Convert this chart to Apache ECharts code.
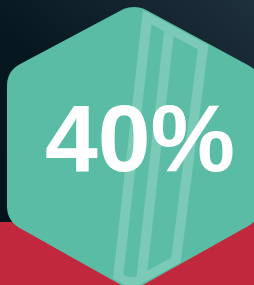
<!DOCTYPE html>
<html>
<head>
<meta charset="utf-8">
<script src="https://cdn.jsdelivr.net/npm/echarts@6/dist/echarts.min.js"></script>
<style>
html, body { margin: 0; padding: 0; background: #061820; }
#main { width: 254px; height: 285px; }
</style>
</head>
<body>
<div id="main"></div>
<script>
// the one value shown
var percentValues = [40];
var percentSuffix = ['%'];

// hexagon corners (top, upper-right, lower-right, bottom, lower-left, upper-left)
var hexX = [134, 261, 261, 132, 7, 7];
var hexY = [3.5, 72, 219, 291, 221, 71];

function pts(xs, ys) {
    return xs.map(function (x, i) { return [x, ys[i]]; });
}

// move every edge of a convex (clockwise on screen) polygon inwards by d
function inset(poly, d) {
    var n = poly.length, lines = [];
    for (var i = 0; i < n; i++) {
        var a = poly[i], b = poly[(i + 1) % n];
        var dx = b[0] - a[0], dy = b[1] - a[1], len = Math.sqrt(dx * dx + dy * dy);
        var nx = -dy / len, ny = dx / len;
        lines.push([[a[0] + nx * d, a[1] + ny * d], [dx, dy]]);
    }
    var out = [];
    for (var j = 0; j < n; j++) {
        var l1 = lines[(j + n - 1) % n], l2 = lines[j];
        var p = l1[0], r = l1[1], q = l2[0], s = l2[1];
        var den = r[0] * s[1] - r[1] * s[0];
        var t = ((q[0] - p[0]) * s[1] - (q[1] - p[1]) * s[0]) / den;
        out.push([p[0] + r[0] * t, p[1] + r[1] * t]);
    }
    return out;
}

// round the corners with a quadratic curve
function rounded(poly, cut) {
    var n = poly.length, out = [];
    for (var i = 0; i < n; i++) {
        var v = poly[i], p = poly[(i + n - 1) % n], q = poly[(i + 1) % n];
        var lp = Math.hypot(p[0] - v[0], p[1] - v[1]), lq = Math.hypot(q[0] - v[0], q[1] - v[1]);
        var a = [v[0] + (p[0] - v[0]) / lp * cut, v[1] + (p[1] - v[1]) / lp * cut];
        var b = [v[0] + (q[0] - v[0]) / lq * cut, v[1] + (q[1] - v[1]) / lq * cut];
        for (var k = 0; k <= 10; k++) {
            var s = k / 10;
            out.push([
                (1 - s) * (1 - s) * a[0] + 2 * (1 - s) * s * v[0] + s * s * b[0],
                (1 - s) * (1 - s) * a[1] + 2 * (1 - s) * s * v[1] + s * s * b[1]
            ]);
        }
    }
    return out;
}

// Sutherland-Hodgman, clip polygon convex and clockwise on screen
function clip(subject, clipPoly) {
    var out = subject;
    for (var i = 0; i < clipPoly.length; i++) {
        var a = clipPoly[i], b = clipPoly[(i + 1) % clipPoly.length];
        var nx = -(b[1] - a[1]), ny = b[0] - a[0];
        var side = function (p) { return (p[0] - a[0]) * nx + (p[1] - a[1]) * ny; };
        var input = out; out = [];
        for (var j = 0; j < input.length; j++) {
            var c = input[j], d = input[(j + 1) % input.length];
            var sc = side(c), sd = side(d);
            if (sc >= 0) out.push(c);
            if ((sc >= 0) !== (sd >= 0)) {
                var t = sc / (sc - sd);
                out.push([c[0] + (d[0] - c[0]) * t, c[1] + (d[1] - c[1]) * t]);
            }
        }
        if (!out.length) break;
    }
    return out;
}

// slanted band between two lines x = x0 - k*y
function band(l, r) {
    var y0 = -20, y1 = 310;
    return [[l[0] - l[1] * y0, y0], [r[0] - r[1] * y0, y0], [r[0] - r[1] * y1, y1], [l[0] - l[1] * y1, y1]];
}

var hex = pts(hexX, hexY);
var hexShape = rounded(hex, 15);
var outerClip = rounded(inset(hex, 1.5), 14);
var holeClip = rounded(inset(hex, 10), 10);

var glass = clip(band([144.1, 0.112], [214.2, 0.128]), outerClip);
var holeLeft = clip(band([154.1, 0.112], [167.6, 0.112]), holeClip);
var holeRight = clip(band([177.6, 0.112], [204.2, 0.128]), holeClip);

var myChart = echarts.init(document.getElementById('main'));
myChart.setOption({
    backgroundColor: {
        type: 'linear', x: 0, y: 1, x2: 1, y2: 0,
        colorStops: [
            { offset: 0, color: '#02121a' },
            { offset: 0.5, color: '#06171f' },
            { offset: 1, color: '#1f303d' }
        ]
    },
    graphic: [
        { type: 'rect', shape: { x: 0, y: 222, width: 254, height: 63 }, style: { fill: '#c1283e' } },
        { type: 'polygon', shape: { points: hexShape }, style: { fill: '#5abca4' } },
        { type: 'polygon', shape: { points: glass }, style: { fill: '#7bcab8' } },
        { type: 'polygon', shape: { points: holeLeft }, style: { fill: '#5cbda6' } },
        { type: 'polygon', shape: { points: holeRight }, style: { fill: '#5cbda6' } },
        {
            type: 'text', x: 140, y: 145,
            style: {
                text: percentValues[0] + percentSuffix[0],
                fill: '#ffffff',
                font: 'bold 95px "Liberation Sans", Arial, sans-serif',
                textAlign: 'center',
                textVerticalAlign: 'middle'
            }
        }
    ]
});
</script>
</body>
</html>
